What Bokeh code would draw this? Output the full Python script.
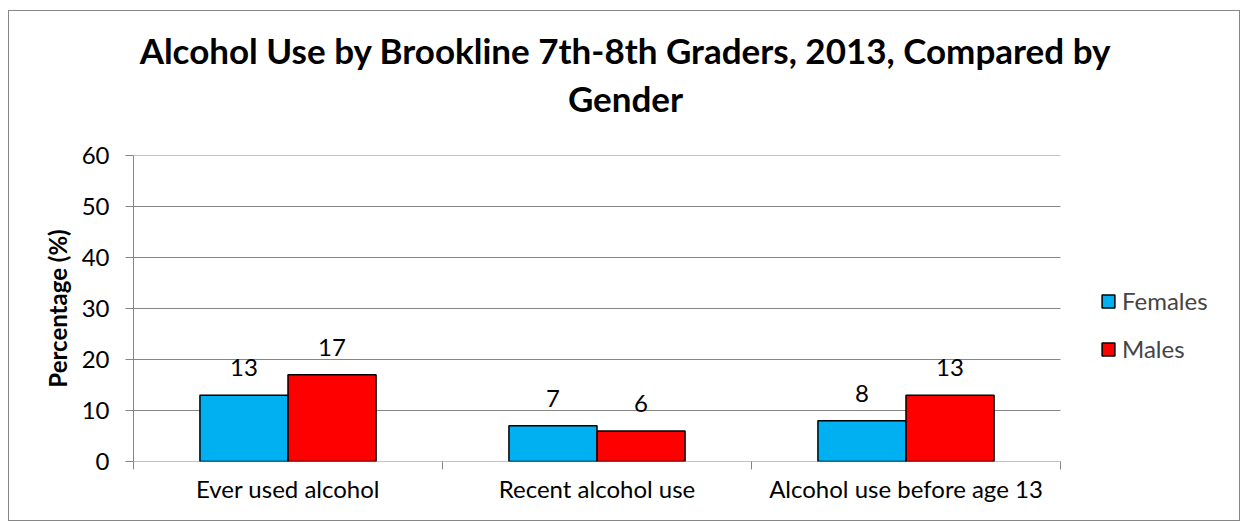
from bokeh.plotting import figure
from bokeh.layouts import column
from bokeh.models import (ColumnDataSource, FixedTicker, Legend, LegendItem, Label, Range1d)
from bokeh.core.properties import value
from bokeh.embed import file_html
from bokeh.resources import INLINE

title_lines = ["Alcohol Use by Brookline 7th-8th Graders, 2013, Compared by", "Gender"]
categories = ["Ever used alcohol", "Recent alcohol use", "Alcohol use before age 13"]
females = [13, 7, 8]
males = [17, 6, 13]
y_ticks = [0, 10, 20, 30, 40, 50, 60]

FONT = "Lato"
GRID = "#868686"
BLUE = "#00B0F0"
RED = "#FF0000"
FS = "24px"

W = 1230
H_TITLE, H_MAIN = 124, 385
LEFT, RIGHT, TOP, BOTTOM = 124, 1, 20, 59
PLOT_W = 927                      # pixel width of the three category slots
frame_w = W - LEFT - RIGHT
n = len(categories)
x_end = n * frame_w / PLOT_W      # extra room on the right holds the legend

# ---------- title strip ----------
t = figure(width=W, height=H_TITLE, output_backend="svg", toolbar_location=None,
           x_range=Range1d(0, 1), y_range=Range1d(0, 1),
           x_axis_location=None, y_axis_location=None, min_border=0)
t.grid.visible = False
t.outline_line_color = None
for txt, yy in zip(title_lines, (86, 38)):
    t.add_layout(Label(x=492, y=yy, x_units="screen", y_units="screen", text=txt,
                       text_align="center", text_baseline="alphabetic",
                       text_font=FONT, text_font_size="35px", text_font_style="bold",
                       text_color="black"))

# ---------- main chart ----------
centers = [i + 0.5 for i in range(n)]
bw = 0.285
fem_x = [c - bw / 2 for c in centers]
mal_x = [c + bw / 2 for c in centers]

src_f = ColumnDataSource(dict(x=fem_x, top=females, lab=[str(v) for v in females]))
src_m = ColumnDataSource(dict(x=mal_x, top=males, lab=[str(v) for v in males]))

p = figure(width=W, height=H_MAIN, output_backend="svg", toolbar_location=None,
           x_range=Range1d(0, x_end), y_range=Range1d(0, 60),
           min_border_left=LEFT, min_border_right=RIGHT, min_border_top=TOP,
           min_border_bottom=BOTTOM)
p.outline_line_color = None

# horizontal gridlines limited to the category area
p.segment(x0=[0] * len(y_ticks), x1=[n] * len(y_ticks), y0=y_ticks, y1=y_ticks,
          line_color=GRID, line_width=1)

rf = p.vbar(x="x", top="top", width=bw, bottom=0, source=src_f,
            fill_color=BLUE, line_color="black", line_width=1.5)
rm = p.vbar(x="x", top="top", width=bw, bottom=0, source=src_m,
            fill_color=RED, line_color="black", line_width=1.5)

for src in (src_f, src_m):
    p.text(x="x", y="top", text="lab", source=src, text_align="center",
           text_baseline="bottom", y_offset=-19, text_font=value(FONT),
           text_font_size=FS, text_color="black")

# y axis
p.yaxis.ticker = FixedTicker(ticks=y_ticks)
p.yaxis.axis_label = "Percentage (%)"
p.yaxis.axis_label_text_font = FONT
p.yaxis.axis_label_text_font_size = "24px"
p.yaxis.axis_label_text_font_style = "bold"
p.yaxis.axis_label_text_color = "black"
p.yaxis.axis_label_standoff = 7
p.yaxis.major_label_text_font = FONT
p.yaxis.major_label_text_font_size = FS
p.yaxis.major_label_text_color = "black"
p.yaxis.major_label_standoff = 16
p.yaxis.axis_line_color = GRID
p.yaxis.major_tick_line_color = GRID
p.yaxis.major_tick_in = 0
p.yaxis.major_tick_out = 8
p.yaxis.minor_tick_line_color = None

# x axis (line drawn by the y=0 gridline segment)
p.xaxis.ticker = FixedTicker(ticks=centers, minor_ticks=list(range(n + 1)))
p.xaxis.major_label_overrides = {c: lab for c, lab in zip(centers, categories)}
p.xaxis.major_label_text_font = FONT
p.xaxis.major_label_text_font_size = FS
p.xaxis.major_label_text_color = "black"
p.xaxis.major_label_standoff = 4
p.xaxis.axis_line_color = None
p.xaxis.major_tick_line_color = None
p.xaxis.minor_tick_line_color = GRID
p.xaxis.minor_tick_in = 0
p.xaxis.minor_tick_out = 8

p.xgrid.grid_line_color = None
p.ygrid.grid_line_color = None

legend = Legend(items=[LegendItem(label="Females", renderers=[rf]),
                       LegendItem(label="Males", renderers=[rm])],
                location=(967, 98), orientation="vertical",
                glyph_width=16, glyph_height=16, label_height=16,
                spacing=19, padding=0, margin=0, label_standoff=6,
                label_text_font=FONT, label_text_font_size=FS,
                border_line_color=None, background_fill_alpha=0)
p.add_layout(legend, "center")

layout = column(t, p, spacing=0,
                styles={"border": "1px solid #868686", "margin-left": "8px",
                        "margin-top": "10px"})

open("out.html", "w").write(file_html(layout, INLINE))
